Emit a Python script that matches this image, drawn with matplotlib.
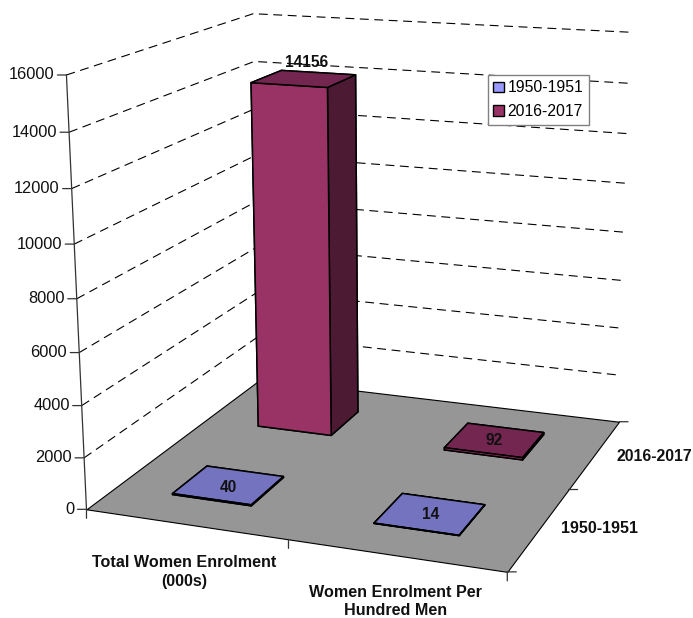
import matplotlib
matplotlib.use('Agg')
import matplotlib.pyplot as plt
from matplotlib.patches import Patch
from mpl_toolkits.mplot3d import proj3d
from mpl_toolkits.mplot3d.art3d import Poly3DCollection

plt.rcParams['font.family'] = ['Liberation Sans', 'DejaVu Sans']

categories = ['Total Women Enrolment\n(000s)', 'Women Enrolment Per\nHundred Men']
series = ['1950-1951', '2016-2017']
values_1950 = [40, 14]
values_2016 = [14156, 92]
z_ticks = [0, 2000, 4000, 6000, 8000, 10000, 12000, 14000, 16000]

W, H = 693, 618
fig = plt.figure(figsize=(W / 100, H / 100), dpi=100)
ax = fig.add_axes([0.00226, -0.01763, 1.02668, 1.15128], projection='3d')
ax.set_xlim(0, 2)
ax.set_ylim(0, 2)
ax.set_zlim(0, 16000)
ax.set_axis_off()
# camera fitted to the box corners of the reference
ax.view_init(15.2812, -69.142, 0.3166)
ax.set_proj_type('persp', focal_length=0.5103)
ax.set_box_aspect((0.9996, 0.9845, 1))

M = ax.get_proj()


def at(x, y, z):
    X, Y, _ = proj3d.proj_transform(x, y, z, M)
    return X, Y


def note(text, x, y, z, dx=0, dy=0, **kw):
    ax.annotate(text, xy=at(x, y, z), xytext=(dx, dy), textcoords='offset pixels',
                annotation_clip=False, **kw)


ax.computed_zorder = False
floor = Poly3DCollection([[(0, 0, 0), (2, 0, 0), (2, 2, 0), (0, 2, 0)]],
                         facecolor='#969696', edgecolor='black', linewidth=0.8, zorder=1)
ax.add_collection3d(floor)

for z in z_ticks[1:]:
    ax.plot([0, 0, 2], [0, 2, 2], [z, z, z], color='black', lw=0.8,
            ls=(0, (8, 5)), zorder=2)
ax.plot([0, 0], [0, 0], [0, 16000], color='#333333', lw=0.9, zorder=2)

w, d = 0.40, 0.38
colors = {0: ['#9999FF', '#7373BF', '#9999FF', '#9999FF', '#4D4D80', '#4D4D80'],
          1: ['#993366', '#732650', '#993366', '#993366', '#4D1A33', '#4D1A33']}
for i, vals in enumerate([values_1950, values_2016]):
    for j, v in enumerate(vals):
        ax.bar3d(j + 0.49 - w / 2, i + 0.49 - d / 2, 0, w, d, v, color=colors[i], shade=False,
                 edgecolor='black', linewidth=1.1, zorder=3)

line = dict(arrowstyle='-', lw=0.9, color='#333333', shrinkA=0, shrinkB=0)
for z in z_ticks:
    note('', 0, 0, z, -9, 0, arrowprops=line)
    note(str(z), 0, 0, z, -12, 0, ha='right', va='center', fontsize=11.8, color='#111111')
for x in (0, 1, 2):
    note('', x, 0, 0, 0, -9, arrowprops=line)
for y in (0, 1, 2):
    note('', 2, y, 0, 9, 0, arrowprops=line)

bold = dict(fontweight='bold', ha='center', va='center', color='#111111')
note(categories[0], 0.5, 0, 0, -1, -48, fontsize=11.6, linespacing=1.3, **bold)
note(categories[1], 1.5, 0, 0, 0, -46, fontsize=11.6, linespacing=1.25, **bold)
note(series[0], 2, 0.5, 0, 60, 0, fontsize=11.5, **bold)
note(series[1], 2, 1.5, 0, 59, -2, fontsize=11.4, **bold)
note(str(values_1950[0]), 0.5, 0.5, 0, -3, -2, fontsize=11.2, **bold)
note(str(values_1950[1]), 1.5, 0.5, 0, -2, -1, fontsize=11.2, **bold)
note(str(values_2016[0]), 0.5, 1.5, values_2016[0], 0, 16, fontsize=11.2, **bold)
note(str(values_2016[1]), 1.5, 1.5, 0, -3, 1, fontsize=11.2, **bold)

handles = [Patch(facecolor='#9999FF', edgecolor='black'), Patch(facecolor='#993366', edgecolor='black')]
fig.legend(handles, series, loc='upper left', bbox_to_anchor=(488 / W, 1 - 75 / H), borderaxespad=0,
           fontsize=11.3, fancybox=False, edgecolor='#808080', framealpha=1, handlelength=0.65,
           handleheight=0.65, handletextpad=0.25, labelspacing=0.55, borderpad=0.35)

fig.savefig('out.png', dpi=100)
